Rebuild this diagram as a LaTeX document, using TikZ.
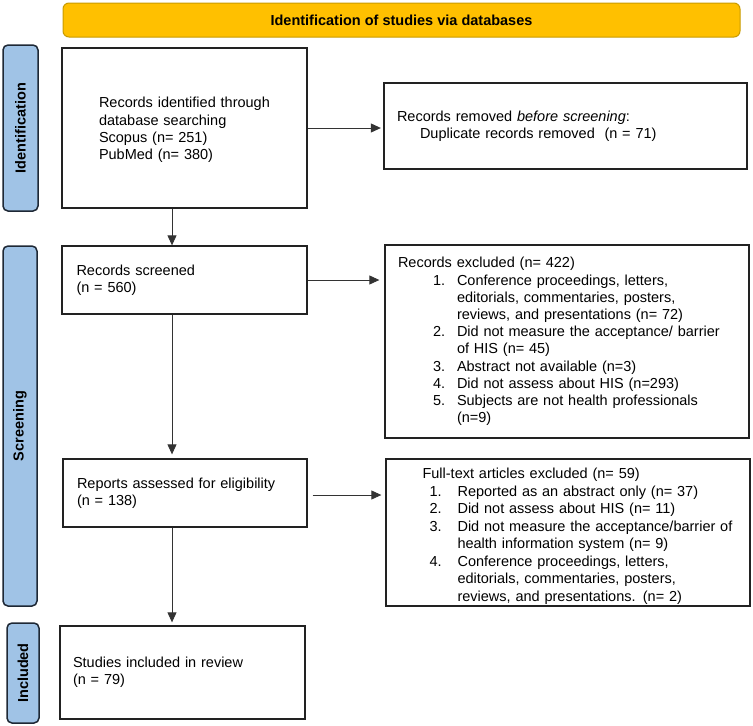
\documentclass[tikz,border=0pt]{standalone}
\usepackage{fontspec}
\setmainfont{Liberation Sans}
\usetikzlibrary{arrows.meta,calc}
\definecolor{hdrfill}{HTML}{FFC000}
\definecolor{hdrline}{HTML}{C89B00}
\definecolor{sidefill}{HTML}{A0C3E6}
\definecolor{sideline}{HTML}{1E2835}
\definecolor{boxline}{HTML}{222222}
\definecolor{arrline}{HTML}{333333}
\newcommand{\bodyfont}{\fontsize{14.5}{17.2}\selectfont}
\newcommand{\ftfont}{\fontsize{14.5}{17.5}\selectfont}
\newcommand{\exitm}[1]{\hspace*{35pt}\makebox[24pt][l]{#1}}
\newcommand{\excnt}{\hspace*{59pt}}
\newcommand{\ftitm}[1]{\hspace*{44pt}\makebox[28pt][l]{#1}}
\newcommand{\ftcnt}{\hspace*{72pt}}
\begin{document}
\begin{tikzpicture}[x=1pt,y=-1pt,
  box/.style={draw=boxline, line width=1.3pt, fill=white, inner sep=0pt, align=left, font=\bodyfont},
  sidebar/.style={draw=sideline, line width=1.5pt, fill=sidefill, rounded corners=5pt, inner sep=0pt, rotate=90, font=\bodyfont\bfseries},
  arr/.style={draw=arrline, line width=0.9pt, -{Triangle[length=10pt,width=9pt]}}
]
\useasboundingbox (0,0) rectangle (753,726);

\node[draw=hdrline, line width=1pt, fill=hdrfill, rounded corners=6pt, minimum width=677pt, minimum height=34pt, inner sep=0pt, font=\bodyfont\bfseries] (hdr) at (401.5,20) {Identification of studies via databases};

\node[sidebar, minimum width=166pt, minimum height=35pt] (sid1) at (20.5,128) {Identification};
\node[sidebar, minimum width=360pt, minimum height=34pt] (sid2) at (20,426) {Screening};
\node[sidebar, minimum width=100pt, minimum height=32pt] (sid3) at (23,673) {Included};

\node[box, text width=245pt, minimum height=160pt] (b1) at (184.5,128) {\leftskip=37pt \rule{0pt}{14.5pt}Records identified through\\database searching\\Scopus (n= 251)\\PubMed (n= 380)\par};

\node[box, text width=363pt, minimum height=86pt] (rem) at (565.5,126) {\leftskip=13pt Records removed \textit{before screening}:\\\hspace*{23pt}Duplicate records removed\ \ (n = 71)\par};

\node[box, text width=245pt, minimum height=68pt] (b2) at (184.5,280) {\leftskip=14.5pt Records screened\\(n = 560)\par};

\node[box, text width=364pt, minimum height=193pt] (ex) at (567,341.5) {\leftskip=13pt Records excluded (n= 422)\\
\exitm{1.}Conference proceedings, letters,\\
\excnt editorials, commentaries, posters,\\
\excnt reviews, and presentations (n= 72)\\
\exitm{2.}Did not measure the acceptance/ barrier\\
\excnt of HIS (n= 45)\\
\exitm{3.}Abstract not available (n=3)\\
\exitm{4.}Did not assess about HIS (n=293)\\
\exitm{5.}Subjects are not health professionals\\
\excnt (n=9)\par};

\node[box, text width=244pt, minimum height=68pt] (b3) at (185,493) {\leftskip=14pt Reports assessed for eligibility\\(n = 138)\par};

\node[box, text width=364pt, minimum height=147pt] (ft) at (568,532.5) {};
\begin{scope}
\clip (ft.north west) rectangle (ft.south east);
\node[anchor=north west, inner sep=0pt, text width=364pt, align=left, font=\ftfont] (fttext) at ($(ft.north west)+(0,9.5)$) {\hspace*{37pt}Full-text articles excluded (n= 59)\\
\ftitm{1.}Reported as an abstract only (n= 37)\\
\ftitm{2.}Did not assess about HIS (n= 11)\\
\ftitm{3.}Did not measure the acceptance/barrier of\\
\ftcnt health information system (n= 9)\\
\ftitm{4.}Conference proceedings, letters,\\
\ftcnt editorials, commentaries, posters,\\
\ftcnt reviews, and presentations. (n= 2)\par};
\end{scope}

\node[box, text width=245pt, minimum height=93pt] (b4) at (182.5,672.5) {\leftskip=13pt Studies included in review\\(n = 79)\par};

\draw[arr] ([xshift=-12.5pt]b1.south) -- ([xshift=-12.5pt]b1.south |- b2.north);
\draw[arr, shorten >=2.5pt] (b1.east) -- (b1.east -| rem.west);
\draw[arr, shorten >=5pt] (b2.east) -- (b2.east -| ex.west);
\draw[arr, shorten >=4pt] ([xshift=-12.5pt]b2.south) -- ([xshift=-12.5pt]b2.south |- b3.north);
\draw[arr, shorten <=5pt, shorten >=4pt] ([yshift=-2pt]b3.east) -- ([yshift=-2pt]b3.east -| ft.west);
\draw[arr, shorten >=3pt] ([xshift=-13pt]b3.south) -- ([xshift=-13pt]b3.south |- b4.north);
\end{tikzpicture}
\end{document}
